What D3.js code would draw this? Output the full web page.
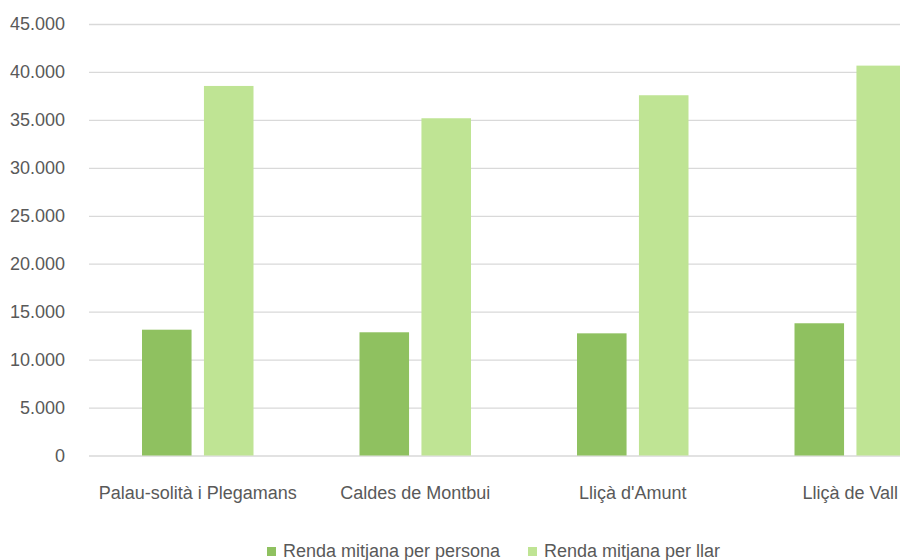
<!DOCTYPE html>
<html>
<head>
<meta charset="utf-8">
<script src="https://cdn.jsdelivr.net/npm/d3@7"></script>
<style>
  body { margin: 0; background: #fff; }
  text { font-family: "Liberation Sans", Arial, sans-serif; fill: #595959; }
</style>
</head>
<body>
<div id="viz"></div>
<script>
// municipis i series
var categories = ['Palau-solità i Plegamans', 'Caldes de Montbui', "Lliçà d'Amunt", 'Lliçà de Vall'];
var seriesNames = ['Renda mitjana per persona', 'Renda mitjana per llar'];
var perPersona = [13120, 12850, 12740, 13790];
var perLlar = [38540, 35170, 37570, 40660];
var yTicks = [0, 5000, 10000, 15000, 20000, 25000, 30000, 35000, 40000, 45000];
var colors = ['#8fc160', '#bfe494'];

var W = 900, H = 560;
var plotLeft = 89, plotTop = 24, plotBottom = 455.5;

var svg = d3.select('#viz').append('svg')
  .attr('width', W).attr('height', H);

var fmt = d3.formatLocale({ decimal: ',', thousands: '.', grouping: [3], currency: ['', ' €'] }).format(',d');

var x = d3.scaleBand().domain(categories).range([plotLeft, plotLeft + 4 * 217.5]);
var xs = d3.scaleBand().domain(seriesNames).range([53, 164.5]).paddingInner(0.2);
var y = d3.scaleLinear().domain([0, 45000]).range([plotBottom, plotTop]);

// gridlines + y labels
var yAxis = svg.append('g')
  .attr('transform', 'translate(' + plotLeft + ',0)')
  .call(d3.axisLeft(y).tickValues(yTicks).tickFormat(fmt).tickSize(-(W - plotLeft)).tickPadding(24));
yAxis.select('.domain').remove();
yAxis.selectAll('line').attr('stroke', '#d9d9d9').attr('stroke-width', 1.3);
yAxis.selectAll('text').style('font-size', '18px').attr('fill', '#595959')
  .style('font-family', '"Liberation Sans", Arial, sans-serif');

var rows = categories.map(function(c, i) { return { cat: c, vals: [perPersona[i], perLlar[i]] }; });

var groups = svg.selectAll('g.cat').data(rows).enter().append('g')
  .attr('class', 'cat')
  .attr('transform', function(d) { return 'translate(' + x(d.cat) + ',0)'; });

groups.selectAll('rect').data(function(d) {
    return d.vals.map(function(v, j) { return { s: seriesNames[j], v: v, j: j }; });
  }).enter().append('rect')
  .attr('x', function(d) { return xs(d.s); })
  .attr('width', xs.bandwidth())
  .attr('y', function(d) { return y(d.v); })
  .attr('height', function(d) { return y(0) - y(d.v); })
  .attr('fill', function(d) { return colors[d.j]; });

// x labels
svg.append('g').selectAll('text').data(categories).enter().append('text')
  .attr('x', function(d) { return x(d) + x.bandwidth() / 2; })
  .attr('y', 499)
  .attr('text-anchor', 'middle')
  .style('font-size', '18px')
  .text(function(d) { return d; });

// legend
var legX = [267, 528];
var leg = svg.append('g').selectAll('g').data(seriesNames).enter().append('g')
  .attr('transform', function(d, i) { return 'translate(' + legX[i] + ',547)'; });
leg.append('rect').attr('width', 9).attr('height', 9)
  .attr('fill', function(d, i) { return colors[i]; });
leg.append('text').attr('x', 16).attr('y', 10)
  .style('font-size', '18px')
  .text(function(d) { return d; });
</script>
</body>
</html>
